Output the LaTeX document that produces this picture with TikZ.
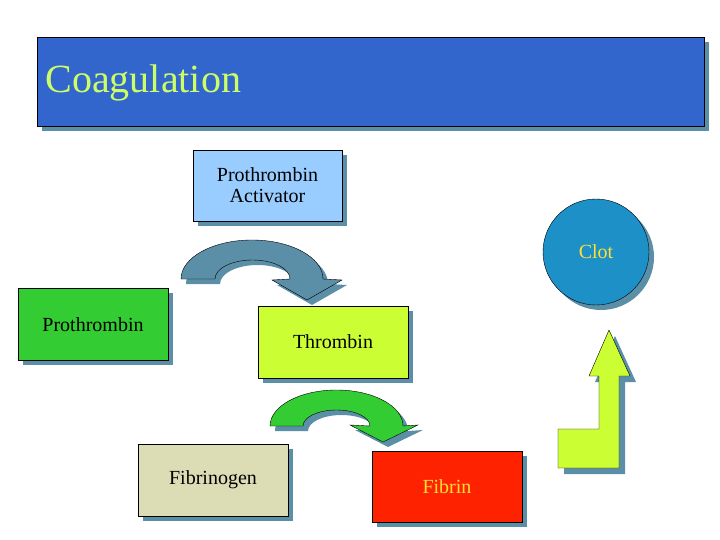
\documentclass[tikz,border=0pt]{standalone}
\usepackage{fontspec}
\setmainfont{Liberation Serif}
\definecolor{shad}{HTML}{5B8FA8}
\definecolor{titleblue}{HTML}{3366CC}
\definecolor{lblue}{HTML}{99CCFF}
\definecolor{pgreen}{HTML}{33CC33}
\definecolor{ygreen}{HTML}{CCFF33}
\definecolor{beige}{HTML}{DDDDB5}
\definecolor{fred}{HTML}{FF2200}
\definecolor{clotc}{HTML}{1E90C8}
\definecolor{ytext}{HTML}{FFE033}
\definecolor{ttext}{HTML}{CCFF66}
\tikzset{
  box/.style={draw=black, minimum width=150pt, minimum height=72pt, inner sep=0pt, font=\fontsize{20}{21}\selectfont, align=center},
  shd/.style={fill=shad, draw=none}
}
\begin{document}
\begin{tikzpicture}[x=1pt,y=-1pt]
\useasboundingbox (0,0) rectangle (720,540);
% title
\fill[shad] (42,42) rectangle (709,131);
\node[draw=black, fill=titleblue, minimum width=667pt, minimum height=89pt, inner sep=0pt, anchor=north west] (title) at (37,37) {};
\node[anchor=west, text=ttext, font=\fontsize{40}{42}\selectfont] (tt) at (42,83) {Coagulation};
% boxes with shadows
\fill[shad] (198,155) rectangle (347,226);
\node[box, fill=lblue, minimum width=149pt, minimum height=71pt] (pa) at (267.5,185.5) {Prothrombin\\Activator};
\fill[shad] (23,293) rectangle (173,365);
\node[box, fill=pgreen] (pt) at (93,324) {};
\node[font=\fontsize{20}{21}\selectfont] (ptt) at (93,325) {Prothrombin};
\fill[shad] (263,311) rectangle (413,383);
\node[box, fill=ygreen] (th) at (333,342) {Thrombin};
\fill[shad] (143,449) rectangle (293,521);
\node[box, fill=beige] (fg) at (213,480) {Fibrinogen};
\fill[shad] (377,456) rectangle (527,527);
\node[box, fill=fred, minimum height=71pt, text=ytext] (fb) at (447,486.5) {Fibrin};
% clot
\fill[shad] (601,257) circle (53);
\node[circle, draw=black, fill=clotc, minimum size=106pt, inner sep=0pt, text=ytext, font=\fontsize{20}{21}\selectfont] (clot) at (596,252) {Clot};
% curved arrow 1
\def\arrowA{(181,279) arc[start angle=180,end angle=360,x radius=71,y radius=39] -- (342,280) -- (307,300) -- (272,280) -- (290,279) arc[start angle=0,end angle=-180,x radius=37.5,y radius=19] -- cycle}
\begin{scope}[shift={(5,5)}]\fill[shad] \arrowA;\end{scope}
\draw[fill=shad] \arrowA;
% curved arrow 2
\def\arrowB{(270,426) arc[start angle=180,end angle=360,x radius=66.5,y radius=36] -- (418,425) -- (383,442) -- (350,425) -- (370,426) arc[start angle=0,end angle=-180,x radius=33.5,y radius=16] -- cycle}
\begin{scope}[shift={(5,5)}]\fill[shad] \arrowB;\end{scope}
\draw[fill=pgreen] \arrowB;
% up arrow
\def\arrowC{(558,468) -- (558,429) -- (599,429) -- (599,376) -- (589,376) -- (609,330) -- (630,376) -- (619,376) -- (619,468) -- cycle}
\begin{scope}[shift={(6,6)}]\fill[shad] \arrowC;\end{scope}
\draw[fill=ygreen] \arrowC;
\end{tikzpicture}
\end{document}
